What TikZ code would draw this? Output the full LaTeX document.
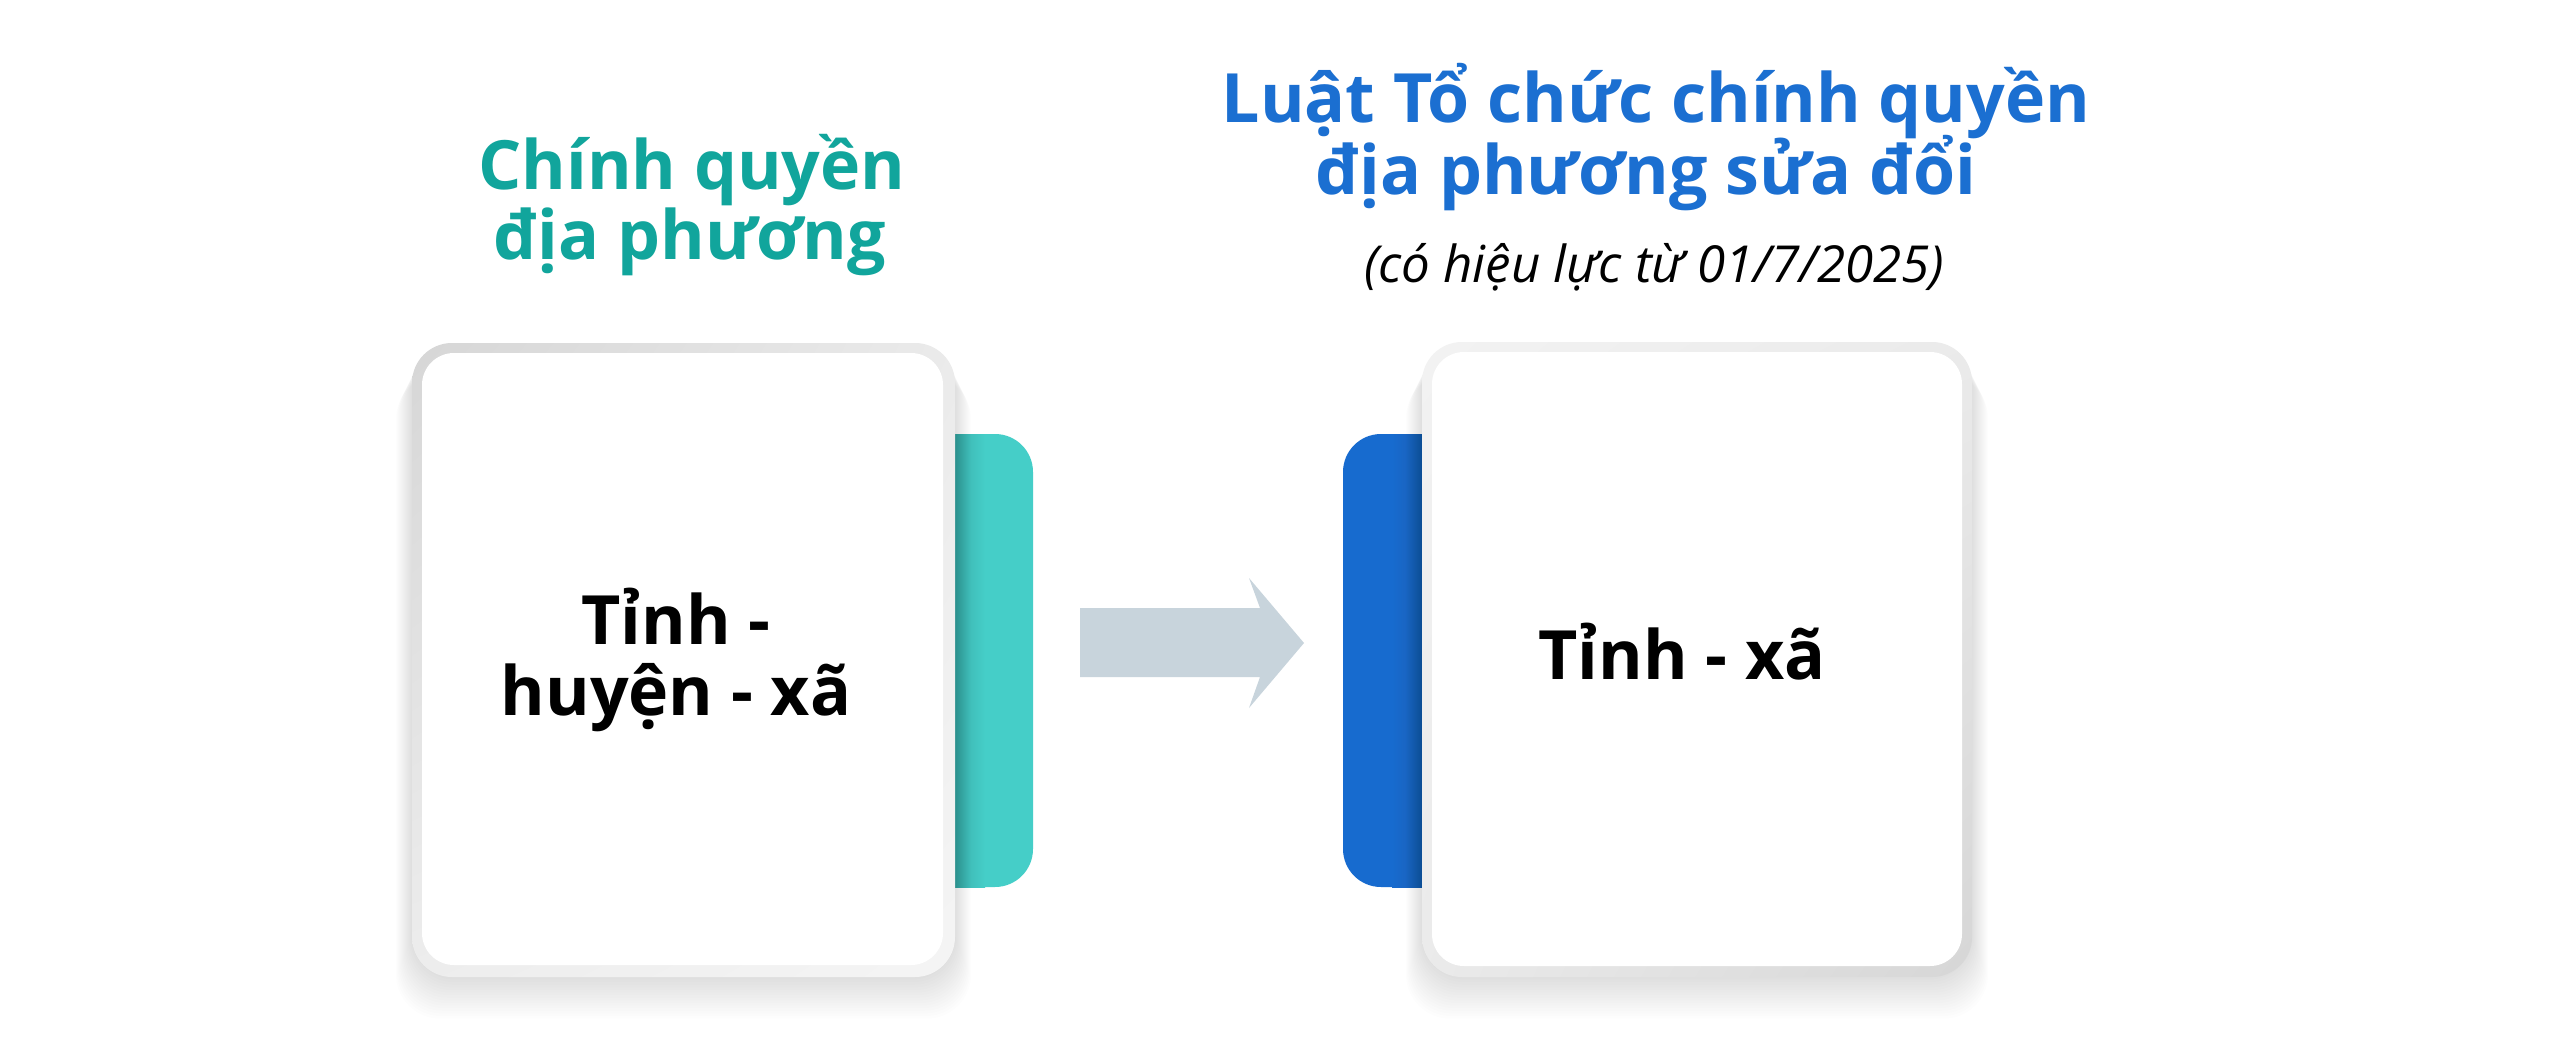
\documentclass[tikz,border=0pt]{standalone}
\usepackage{fontspec}
\setmainfont{Open Sans}
\usetikzlibrary{shadings}
\definecolor{tealhead}{HTML}{11A59C}
\definecolor{tealtab}{HTML}{45CEC8}
\definecolor{tealdark}{HTML}{3BB0AD}
\definecolor{bluetitle}{HTML}{1B6FD1}
\definecolor{bluetab}{HTML}{176BCF}
\definecolor{bluedark}{HTML}{1C5EB5}
\definecolor{arrowc}{HTML}{C8D4DC}
\begin{document}
\begin{tikzpicture}[x=1pt,y=-1pt,
  headL/.style={text=tealhead, font=\fontsize{68}{80}\selectfont\bfseries, anchor=base, inner sep=0pt},
  headR/.style={text=bluetitle, font=\fontsize{68}{80}\selectfont\bfseries, anchor=base, inner sep=0pt},
  subtxt/.style={text=black, font=\fontsize{51}{60}\selectfont\itshape, anchor=base, inner sep=0pt},
  bodytxt/.style={text=black, font=\fontsize{68}{76}\selectfont\bfseries, anchor=base, inner sep=0pt},
  shadowlayer/.style={fill=black, opacity=0.007, rounded corners=44pt}]
\useasboundingbox (0,0) rectangle (2560,1051);
\fill[white] (0,0) rectangle (2560,1051);

% tabs
\fill[tealtab, rounded corners=38pt] (900,434) rectangle (1033,887);
\shade[left color=tealdark, right color=tealtab] (955,434) rectangle (985,887);
\fill[bluetab, rounded corners=38pt] (1343,434) rectangle (1480,887);
\shade[left color=bluetab, right color=bluedark] (1392,434) rectangle (1422,887);

% soft shadows of the cards
\foreach \g in {2,4,...,32} {
  \fill[shadowlayer] (412-0.5*\g,343+\g) rectangle (955+0.5*\g,977+1.3*\g);
  \fill[shadowlayer] (1422-0.5*\g,342+\g) rectangle (1972+0.5*\g,977+1.3*\g);
}

% left card
\shade[rounded corners=40pt, upper left=black!16, upper right=black!8, lower left=black!7, lower right=black!4] (412,343) rectangle (955,977);
\fill[white, rounded corners=32pt] (422,353) rectangle (943,965);

% right card
\shade[rounded corners=40pt, upper left=black!5, upper right=black!8, lower left=black!8, lower right=black!16] (1422,342) rectangle (1972,977);
\fill[white, rounded corners=32pt] (1432,352) rectangle (1962,966);

% arrow
\fill[arrowc] (1080,608) -- (1260,608) -- (1249,578) -- (1304,643) -- (1249,708) -- (1260,677) -- (1080,677) -- cycle;

% headings
\node[headL] (hl1) at (692,190) {Chính quyền};
\node[headL] (hl2) at (690,259) {địa phương};
\node[headR] (hr1) at (1656,123) {Luật Tổ chức chính quyền};
\node[headR] (hr2) at (1646,195) {địa phương sửa đổi};
\node[subtxt] (sub) at (1654,283) {(có hiệu lực từ 01/7/2025)};

% card texts
\node[bodytxt] (l1) at (676,644) {Tỉnh -};
\node[bodytxt] (l2) at (676,715) {huyện - xã};
\node[bodytxt] (r1) at (1682,679) {Tỉnh - xã};
\end{tikzpicture}
\end{document}
